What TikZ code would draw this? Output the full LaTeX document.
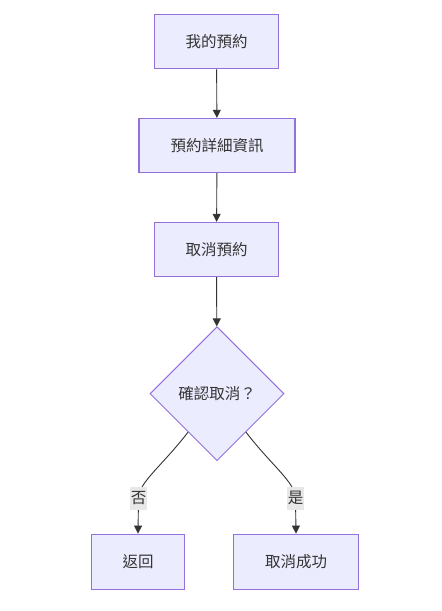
\documentclass[tikz,border=0pt]{standalone}
\usepackage{fontspec}
\setmainfont{Noto Sans CJK TC}
\usetikzlibrary{shapes.geometric,arrows.meta}
\definecolor{boxfill}{HTML}{ECECFF}
\definecolor{boxline}{HTML}{9370DB}
\definecolor{ink}{HTML}{333333}
\definecolor{lblbg}{HTML}{E8E8E8}
\tikzset{
  box/.style={draw=boxline, fill=boxfill, line width=1.3pt, text=ink, inner sep=0pt, minimum height=54pt, font=\fontsize{15.5}{18}\selectfont},
  dia/.style={draw=boxline, fill=boxfill, line width=1pt, diamond, aspect=1, inner sep=0pt, minimum width=134pt, minimum height=134pt, text=ink, font=\fontsize{15.5}{18}\selectfont},
  edge/.style={draw=ink, line width=0.9pt, -{Triangle[length=8pt,width=8pt]}},
  lbl/.style={fill=lblbg, text=ink, inner sep=1pt, minimum width=15.5pt, minimum height=23pt, font=\fontsize{15.5}{18}\selectfont}
}
\begin{document}
\begin{tikzpicture}[x=1pt,y=-1pt]
\useasboundingbox (0,0) rectangle (442,611);
\node[box, minimum width=124pt] (a) at (216.5,41.7) {我的預約};
\node[box, minimum width=156pt] (b) at (217,145.5) {預約詳細資訊};
\node[box, minimum width=124pt] (c) at (216.5,249.5) {取消預約};
\node[dia] (d) at (217,393.7) {確認取消？};
\node[box, minimum width=93pt, minimum height=55pt] (e) at (138,561.7) {返回};
\node[box, minimum width=125pt, minimum height=55pt] (f) at (296,561.7) {取消成功};
\draw[edge] (a) -- (b);
\draw[edge] (b) -- (c);
\draw[edge] (c) -- (d);
\draw[edge] (d.-127) .. controls (162,466) and (139,482) .. (138.5,498) -- (e.north) node[pos=0, lbl] {否};
\draw[edge] (d.-53) .. controls (272,466) and (295,482) .. (295.5,498) -- (f.north) node[pos=0, lbl] {是};
\end{tikzpicture}
\end{document}
